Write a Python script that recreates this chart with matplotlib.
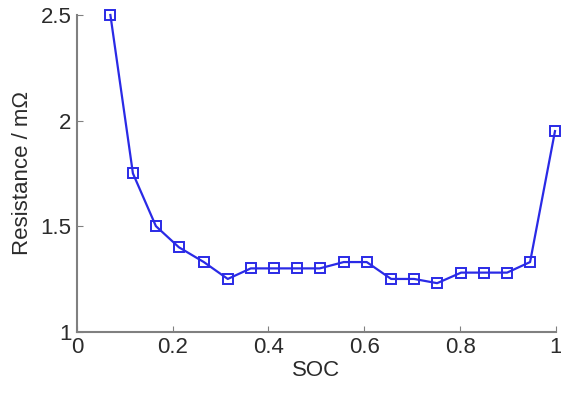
import matplotlib
matplotlib.use("Agg")
import matplotlib.pyplot as plt

soc = [0.07, 0.117, 0.165, 0.213, 0.265, 0.315, 0.363, 0.411, 0.459, 0.507,
       0.557, 0.605, 0.656, 0.704, 0.752, 0.802, 0.85, 0.898, 0.946, 0.998]
resistance = [2.5, 1.75, 1.5, 1.4, 1.33, 1.25, 1.3, 1.3, 1.3, 1.3,
              1.33, 1.33, 1.25, 1.25, 1.23, 1.28, 1.28, 1.28, 1.33, 1.95]
xticks = [0, 0.2, 0.4, 0.6, 0.8, 1]
xticklabels = ["0", "0.2", "0.4", "0.6", "0.8", "1"]
yticks = [1, 1.5, 2, 2.5]
yticklabels = ["1", "1.5", "2", "2.5"]

plt.rcParams['font.family'] = ['Liberation Sans', 'DejaVu Sans']
fig = plt.figure(figsize=(5.61, 3.94), dpi=100)
ax = fig.add_axes([0.137, 0.158, 0.854, 0.804])
ax.plot(soc, resistance, color='#2a2ae6', lw=1.6, marker='s', ms=6.5,
        mfc='none', mec='#2a2ae6', mew=1.4, clip_on=False)
ax.set_xlim(0, 1)
ax.set_ylim(1, 2.5)
ax.set_xticks(xticks)
ax.set_xticklabels(xticklabels)
ax.set_yticks(yticks)
ax.set_yticklabels(yticklabels)
for s in ['top', 'right']:
    ax.spines[s].set_visible(False)
for s in ['left', 'bottom']:
    ax.spines[s].set_color('#808080')
    ax.spines[s].set_linewidth(1.5)
ax.tick_params(direction='in', length=4, color='#808080', labelsize=16,
               labelcolor='#2b2b2b', pad=4)
ax.set_xlabel('SOC', fontsize=16, color='#2b2b2b', labelpad=1)
ax.set_ylabel('Resistance / mΩ', fontsize=16, color='#2b2b2b', labelpad=5)
fig.savefig('out.png', dpi=100)
